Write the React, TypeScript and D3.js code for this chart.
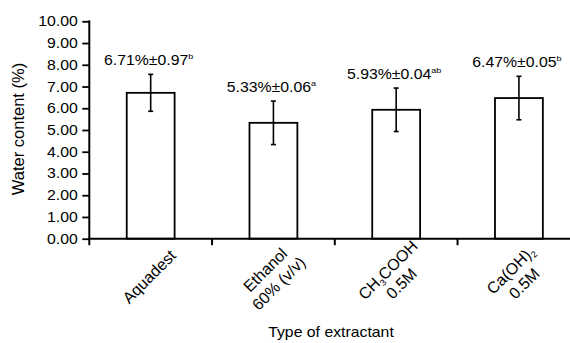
import { useEffect, useRef } from 'react';
import * as d3 from 'd3';

const categories = ['Aquadest', 'Ethanol 60%', 'CH3COOH 0.5M', 'Ca(OH)2 0.5M'];
const waterContent = [6.71, 5.33, 5.93, 6.47];
const errorBars = [0.85, 1.0, 1.0, 1.0];
const valueLabels = ['6.71%±0.97', '5.33%±0.06', '5.93%±0.04', '6.47%±0.05'];
const letters = ['b', 'a', 'ab', 'b'];
const yTicks = [0, 1, 2, 3, 4, 5, 6, 7, 8, 9, 10];

// each category label: lines, each line a list of [text, isSubscript]
const xLabelLines: [string, boolean][][][] = [
  [[['Aquadest', false]]],
  [[['Ethanol', false]], [['60% (v/v)', false]]],
  [[['CH', false], ['3', true], ['COOH', false]], [['0.5M', false]]],
  [[['Ca(OH)', false], ['2', true]], [['0.5M', false]]],
];

const FONT = '"Liberation Sans", Arial, sans-serif';
const SX = 1.13; // horizontal stretch of the source image

export default function App() {
  const svgRef = useRef<SVGSVGElement>(null);

  useEffect(() => {
    if (!svgRef.current) return;
    d3.select(svgRef.current).selectAll('*').remove();

    const width = 570;
    const height = 343;
    const left = 89.3;
    const bottom = 238.7;
    const top = 21.3;

    const svg = d3.select(svgRef.current)
      .attr('width', width)
      .attr('height', height)
      .style('font-family', FONT);

    const x = d3.scaleBand()
      .domain(categories)
      .range([left, left + 4 * 122.75])
      .paddingInner(0)
      .paddingOuter(0);

    const y = d3.scaleLinear()
      .domain([0, 10])
      .range([bottom, top]);

    const barW = x.bandwidth() * 0.39;
    const cx = (c: string) => (x(c) as number) + x.bandwidth() / 2;

    // bars
    svg.selectAll('rect.bar')
      .data(categories)
      .enter()
      .append('rect')
      .attr('class', 'bar')
      .attr('x', d => cx(d) - barW / 2)
      .attr('y', (_, i) => y(waterContent[i]))
      .attr('width', barW)
      .attr('height', (_, i) => bottom - y(waterContent[i]))
      .attr('fill', 'white')
      .attr('stroke', 'black')
      .attr('stroke-width', 1.8);

    // error bars
    const eb = svg.append('g').attr('stroke', 'black').attr('stroke-width', 1.6);
    categories.forEach((c, i) => {
      const hi = y(waterContent[i] + errorBars[i]);
      const lo = y(waterContent[i] - errorBars[i]);
      const xc = cx(c);
      eb.append('line').attr('x1', xc).attr('x2', xc).attr('y1', hi).attr('y2', lo);
      eb.append('line').attr('x1', xc - 2.5).attr('x2', xc + 2.5).attr('y1', hi).attr('y2', hi);
      eb.append('line').attr('x1', xc - 2.5).attr('x2', xc + 2.5).attr('y1', lo).attr('y2', lo);

      // value label
      const t = svg.append('g')
        .attr('transform', `translate(${xc - 2},${hi - 9}) scale(${SX},1)`)
        .append('text')
        .attr('text-anchor', 'middle')
        .style('font-size', '14px');
      t.append('tspan').text(valueLabels[i]);
      t.append('tspan')
        .attr('dy', -6)
        .style('font-size', '8px')
        .text(letters[i]);
    });

    // y axis
    const yAxis = svg.append('g')
      .attr('transform', `translate(${left},0)`)
      .call(
        d3.axisLeft(y)
          .tickValues(yTicks)
          .tickFormat(d => (d as number).toFixed(2))
          .tickSize(7)
          .tickSizeOuter(0)
          .tickPadding(4.5)
      );
    yAxis.select('.domain').remove();
    yAxis.selectAll('.tick line').attr('stroke', 'black').attr('stroke-width', 1.8);
    yAxis.selectAll('.tick text')
      .attr('x', -11.5 / SX)
      .attr('transform', `scale(${SX},1)`)
      .attr('fill', 'black')
      .style('font-size', '14px')
      .style('font-family', FONT);

    // axis lines
    svg.append('line')
      .attr('x1', left).attr('x2', left)
      .attr('y1', top - 0.9).attr('y2', bottom)
      .attr('stroke', 'black').attr('stroke-width', 2);
    svg.append('line')
      .attr('x1', left - 1).attr('x2', width + 20)
      .attr('y1', bottom).attr('y2', bottom)
      .attr('stroke', 'black').attr('stroke-width', 2);

    // category boundary ticks
    const bounds = categories.map(c => x(c) as number);
    svg.selectAll('line.xtick')
      .data(bounds)
      .enter()
      .append('line')
      .attr('class', 'xtick')
      .attr('x1', d => d).attr('x2', d => d)
      .attr('y1', bottom).attr('y2', bottom + 6.5)
      .attr('stroke', 'black').attr('stroke-width', 2);

    // rotated category labels
    const lineH = 19;
    categories.forEach((c, i) => {
      const lines = xLabelLines[i];
      const g = svg.append('g')
        .attr('transform', `translate(${cx(c) - 1.5},${bottom + 38}) rotate(-45)`);
      lines.forEach((parts, li) => {
        const t = g.append('text')
          .attr('text-anchor', 'middle')
          .attr('y', (li - (lines.length - 1) / 2) * lineH + 5.5)
          .style('font-size', '16px');
        parts.forEach(([s, sub], pi) => {
          const sp = t.append('tspan').text(s);
          if (sub) sp.attr('dy', 3).style('font-size', '9px');
          else if (pi > 0) sp.attr('dy', -3);
        });
      });
    });

    // axis titles
    svg.append('g')
      .attr('transform', `translate(331,337) scale(${SX},1)`)
      .append('text')
      .attr('text-anchor', 'middle')
      .style('font-size', '14px')
      .text('Type of extractant');

    svg.append('text')
      .attr('transform', `translate(24,129) rotate(-90)`)
      .attr('text-anchor', 'middle')
      .style('font-size', '16.5px')
      .text('Water content (%)');
  }, []);

  return (
    <svg
      ref={svgRef}
      style={{ position: 'absolute', left: 0, top: 0, background: 'white', display: 'block' }}
    />
  );
}
